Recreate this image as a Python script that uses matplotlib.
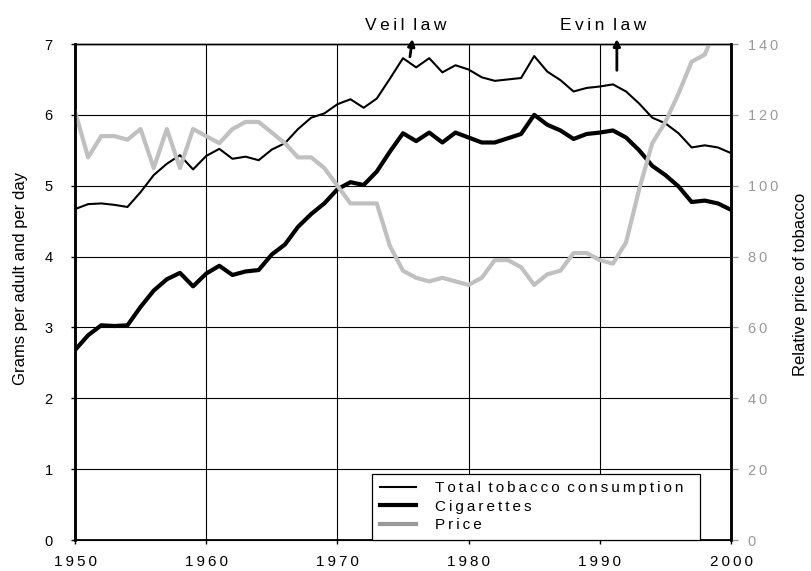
import numpy as np
import matplotlib
matplotlib.use("Agg")
from matplotlib import pyplot as plt

plt.rcParams["font.family"] = ["Liberation Sans", "DejaVu Sans"]

years = list(range(1950, 2001))

# grams per adult per day
total = [4.67, 4.74, 4.75, 4.73, 4.70, 4.91, 5.15, 5.31, 5.43, 5.23,
         5.42, 5.52, 5.38, 5.41, 5.36, 5.51, 5.60, 5.80, 5.96, 6.02,
         6.15, 6.22, 6.10, 6.23, 6.51, 6.80, 6.67, 6.80, 6.60, 6.70,
         6.64, 6.53, 6.48, 6.50, 6.52, 6.83, 6.61, 6.49, 6.33, 6.38,
         6.40, 6.43, 6.33, 6.16, 5.96, 5.88, 5.74, 5.54, 5.57, 5.54,
         5.46]
cigarettes = [2.68, 2.89, 3.03, 3.02, 3.03, 3.29, 3.52, 3.68, 3.77, 3.58,
              3.76, 3.87, 3.74, 3.79, 3.81, 4.03, 4.17, 4.42, 4.60, 4.75,
              4.95, 5.05, 5.01, 5.20, 5.48, 5.74, 5.63, 5.75, 5.61, 5.75,
              5.68, 5.61, 5.61, 5.67, 5.73, 6.00, 5.86, 5.78, 5.66, 5.73,
              5.75, 5.78, 5.68, 5.50, 5.28, 5.15, 4.99, 4.77, 4.79, 4.75,
              4.66]
# relative price of tobacco (right axis)
price = [121, 108, 114, 114, 113, 116, 105, 116, 105, 116,
         114, 112, 116, 118, 118, 115, 112, 108, 108, 105,
         100, 95, 95, 95, 83, 76, 74, 73, 74, 73,
         72, 74, 79, 79, 77, 72, 75, 76, 81, 81,
         79, 78, 84, 99, 112, 118, 126, 135, 137, 146,
         150]

legend_labels = ["Total tobacco consumption", "Cigarettes", "Price"]


def spaced(s):
    # excel-like letter spacing
    return "\u2002".join("\u2009".join(w) for w in s.split(" "))


fig = plt.figure(figsize=(8.12, 5.71), dpi=100)
ax = fig.add_subplot(111)
fig.subplots_adjust(left=75 / 812, right=731 / 812, top=1 - 44 / 571, bottom=1 - 540 / 571)
ax2 = ax.twinx()

l1, = ax.plot(years, total, color="black", lw=1.5, zorder=3)
l2, = ax.plot(years, cigarettes, color="black", lw=3.0, zorder=3)
l3, = ax2.plot(years, price, color="#c0c0c0", lw=3.0, zorder=2)

ax.set_xlim(1950, 2000)
ax.set_ylim(0, 7)
ax2.set_ylim(0, 140)

ax.set_xticks(range(1950, 2001, 10))
ax.set_xticklabels([spaced(str(y)) for y in range(1950, 2001, 10)], fontsize=11)
ax.set_yticks(range(0, 8))
ax.set_yticklabels([str(v) for v in range(0, 8)], fontsize=10.5)
ax2.set_yticks(range(0, 141, 20))
ax2.set_yticklabels([spaced(str(v)) for v in range(0, 141, 20)], fontsize=10.5, color="#999999")

ax.tick_params(axis="x", direction="out", length=3, width=1, pad=8)
ax.tick_params(axis="y", direction="out", length=3, width=1, pad=13)
ax2.tick_params(axis="y", direction="out", length=5, width=1, pad=7, color="#999999")

ax.grid(True, color="black", lw=0.8)
ax.set_axisbelow(True)

for side in ["left", "right"]:
    ax.spines[side].set_linewidth(1.8)
    ax2.spines[side].set_linewidth(1.8)
ax.spines["bottom"].set_linewidth(1.3)
ax.spines["top"].set_linewidth(1.0)
ax2.spines["top"].set_linewidth(1.0)

ax.set_ylabel("Grams per adult and per day", fontsize=12)
ax.yaxis.set_label_coords(-0.072, 0.528)
ax2.set_ylabel("Relative price of tobacco", fontsize=12, rotation=90)
ax2.yaxis.set_label_coords(1.094, 0.516)

# law annotations
ax.annotate("", xy=(1975.75, 7.11), xytext=(1975.5, 6.78), annotation_clip=False,
            arrowprops=dict(arrowstyle="-|>", color="black", lw=2, mutation_scale=10))
ax.annotate("", xy=(1991.3, 7.11), xytext=(1991.3, 6.59), annotation_clip=False,
            arrowprops=dict(arrowstyle="-|>", color="black", lw=2, mutation_scale=10))
ax.text(1975.2, 7.26, spaced("Veil law"), fontsize=12.5,
        ha="center", va="center", clip_on=False)
ax.text(1990.25, 7.26, spaced("Evin law"), fontsize=12.5,
        ha="center", va="center", clip_on=False)

leg = ax2.legend([l1, l2, l3], [spaced(lab) for lab in legend_labels],
                 loc="lower left", bbox_to_anchor=(0.453, 0.0, 0.5, 0.145), mode="expand",
                 fontsize=11, frameon=True, fancybox=False, framealpha=1,
                 edgecolor="black", handlelength=2.4, handletextpad=1.2,
                 labelspacing=0.3, borderpad=0.5, borderaxespad=0)
leg.get_frame().set_linewidth(0.9)
leg.get_lines()[2].set_color("#999999")

fig.savefig("out.png", dpi=100)
